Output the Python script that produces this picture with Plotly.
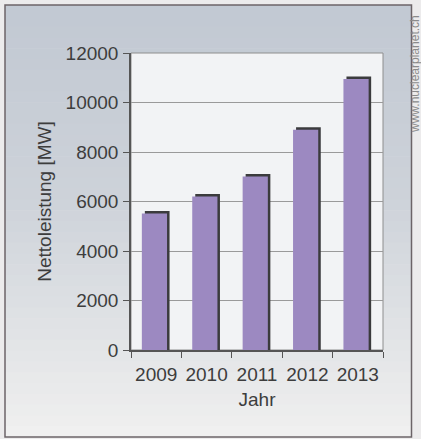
import plotly.graph_objects as go

years = ["2009", "2010", "2011", "2012", "2013"]
leistung = [5620, 6300, 7110, 9000, 11050]
y_ticks = [0, 2000, 4000, 6000, 8000, 10000, 12000]
y_tick_labels = ["0", "2000", "4000", "6000", "8000", "10000", "12000"]

W, H = 421, 439
L, R, T, B = 131, 38, 53, 89
plot_h = H - T - B
ymax = 12000
shift = 2.5 * ymax / plot_h  # front face sits ~2.5px lower than the shadow

font_family = "Liberation Sans, Arial, sans-serif"
text_color = "#3d3d3d"

fig = go.Figure()
# dark shadow bars (behind)
fig.add_trace(go.Bar(
    x=years, y=leistung, yaxis="y",
    marker=dict(color="#3b3b3d", line=dict(width=0)),
    width=0.49, offset=-0.225, hoverinfo="skip", showlegend=False,
))
# purple front bars (on an overlaying axis shifted slightly down)
fig.add_trace(go.Bar(
    x=years, y=leistung, yaxis="y2",
    marker=dict(color="#9c89c1", line=dict(width=0)),
    width=0.5, offset=-0.285, showlegend=False,
))

# gradient panel background via bands
shapes = []
n = 40
top_c = (0xc2, 0xc9, 0xd3)
mid_c = (0xce, 0xd3, 0xda)
bot_c = (0xf0, 0xf0, 0xf0)
px0 = (5 - L) / (W - L - R)
px1 = (411.5 - L) / (W - L - R)
ytop_px, ybot_px = 5, 437
for i in range(n):
    f = i / (n - 1)
    if f < 0.45:
        g = f / 0.45
        c = tuple(int(top_c[k] + (mid_c[k] - top_c[k]) * g) for k in range(3))
    else:
        g = (f - 0.45) / 0.55
        c = tuple(int(mid_c[k] + (bot_c[k] - mid_c[k]) * g) for k in range(3))
    a = ytop_px + (ybot_px - ytop_px) * i / n
    b = ytop_px + (ybot_px - ytop_px) * (i + 1) / n + 0.6
    shapes.append(dict(type="rect", xref="paper", yref="paper", layer="below",
                       x0=px0, x1=px1,
                       y0=(H - B - b) / plot_h, y1=(H - B - a) / plot_h,
                       line=dict(width=0), fillcolor="rgb(%d,%d,%d)" % c))
# panel frame
shapes.append(dict(type="rect", xref="paper", yref="paper", layer="below",
                   x0=px0, x1=px1,
                   y0=(H - B - ybot_px) / plot_h, y1=(H - B - ytop_px) / plot_h,
                   line=dict(width=1.5, color="#6c6468"), fillcolor="rgba(0,0,0,0)"))
# plot area background
shapes.append(dict(type="rect", xref="paper", yref="paper", layer="below",
                   x0=0, x1=1, y0=0, y1=1,
                   line=dict(width=1, color="#8e8e8e"), fillcolor="#f2f3f5"))

fig.update_layout(
    width=W, height=H,
    margin=dict(l=L, r=R, t=T, b=B, autoexpand=False),
    paper_bgcolor="#ecebec",
    plot_bgcolor="rgba(0,0,0,0)",
    barmode="overlay",
    font=dict(family=font_family, size=19, color=text_color),
    shapes=shapes,
    xaxis=dict(
        type="category", tickson="boundaries", ticks="outside", ticklen=6,
        tickcolor="#555", tickwidth=1, tickangle=0,
        showline=True, linecolor="#555", linewidth=1.5,
        showgrid=False, ticklabelstandoff=6,
        title=dict(text="Jahr", standoff=9, font=dict(size=19)),
        range=[-0.5, 4.5],
    ),
    yaxis=dict(
        range=[0, ymax], tickvals=y_ticks, ticktext=y_tick_labels,
        ticks="outside", ticklen=6,
        tickcolor="#555", showline=True, linecolor="#555", linewidth=1.5,
        showgrid=True, gridcolor="#9a9a9a", gridwidth=1,
        zeroline=False, ticklabelstandoff=1,
        title=dict(text="Nettoleistung [MW]", standoff=9, font=dict(size=19)),
    ),
    yaxis2=dict(
        range=[shift, ymax + shift], overlaying="y", visible=False,
    ),
    annotations=[dict(
        text="www.nuclearplanet.ch", textangle=-90, xref="paper", yref="paper",
        x=(415 - L) / (W - L - R), y=(H - 74 - B) / plot_h,
        showarrow=False, font=dict(size=12, color="#8a8a8a"),
        xanchor="center", yanchor="middle",
    )],
)

fig.write_html("out.html", config={"displayModeBar": False},
               post_script="document.body.style.margin='0';")
